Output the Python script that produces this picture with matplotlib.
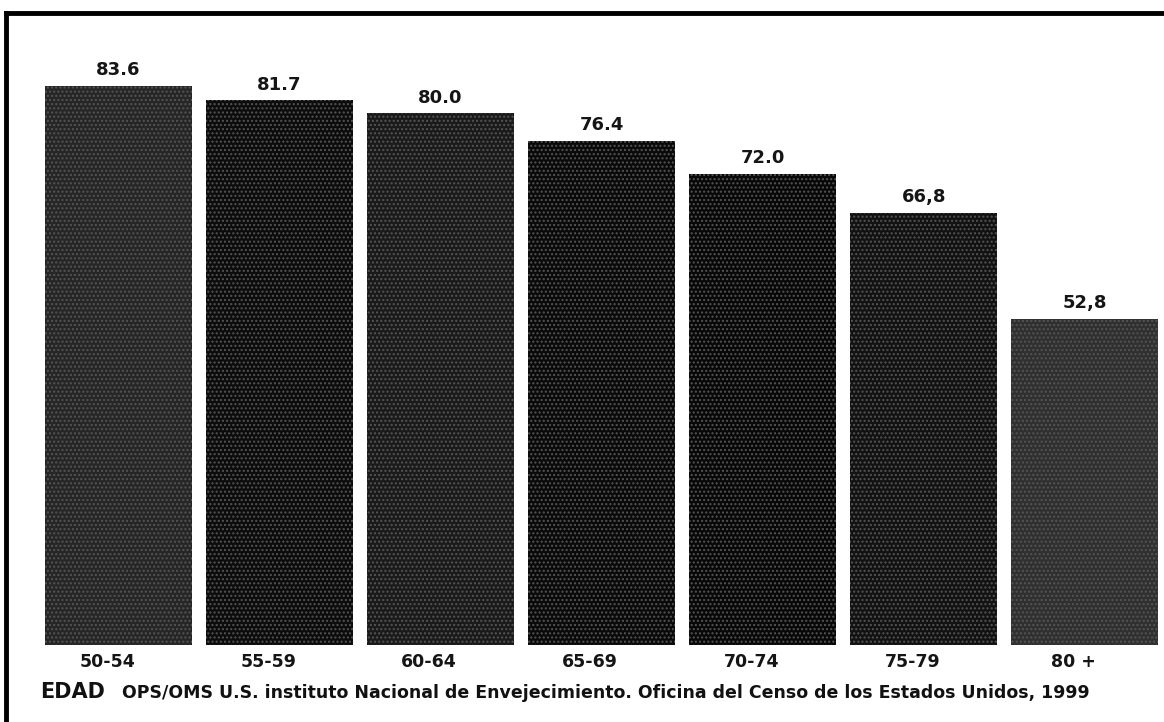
import matplotlib.pyplot as plt
from matplotlib.lines import Line2D

plt.rcParams['font.family'] = ['DejaVu Sans']

edades = ["50-54", "55-59", "60-64", "65-69", "70-74", "75-79", "80 +"]
valores = [83.6, 81.7, 80.0, 76.4, 72.0, 66.8, 52.8]
etiquetas = ["83.6", "81.7", "80.0", "76.4", "72.0", "66,8", "52,8"]
fuente = ("OPS/OMS U.S. instituto Nacional de Envejecimiento. "
          "Oficina del Censo de los Estados Unidos, 1999")

W, H = 1164, 722
fig = plt.figure(figsize=(W / 100, H / 100), dpi=100)

# axes box in pixels: bars from x=45 to 1158, baseline at y=645
left, right, top, base = 45, 1158, 12, 645
ax = fig.add_axes([left / W, 1 - base / H, (right - left) / W, (base - top) / H])

colores = ["#262626", "#0c0c0c", "#1a1a1a", "#0a0a0a", "#080808", "#121212", "#303030"]
x = range(len(edades))
barras = ax.bar(x, valores, width=0.91, color=colores, linewidth=0)
for b in barras:
    b.set_hatch("....")
    b.set_edgecolor("#555555")

ax.set_xlim(-0.455, 6.455)
ax.set_ylim(9.7, 93.4)

for xi, v, t in zip(x, valores, etiquetas):
    ax.text(xi, v + 0.9, t, ha="center", va="bottom", fontsize=13,
            fontweight="bold", color="#151515")

# age group names, a little left of each bar centre
for xi, e in zip(x, edades):
    ax.text(xi - 0.07, 9.7 - 2.3, e, ha="center", va="center", fontsize=12.5,
            fontweight="bold", color="#151515")

ax.set_xticks([])
ax.set_yticks([])
for s in ax.spines.values():
    s.set_visible(False)

# outer frame: left and top edges only
fig.add_artist(Line2D([6 / W, 6 / W], [0, 1 - 13 / H], color="black", lw=3.5))
fig.add_artist(Line2D([6 / W, 1], [1 - 13 / H, 1 - 13 / H], color="black", lw=3.5))

fig.text(40 / W, 1 - 692 / H, "EDAD", fontsize=15, fontweight="bold",
         va="center", ha="left", color="#111111")
fig.text(122 / W, 1 - 693 / H, fuente, fontsize=12.5, fontweight="bold",
         va="center", ha="left", color="#111111")

fig.savefig("out.png", dpi=100)
